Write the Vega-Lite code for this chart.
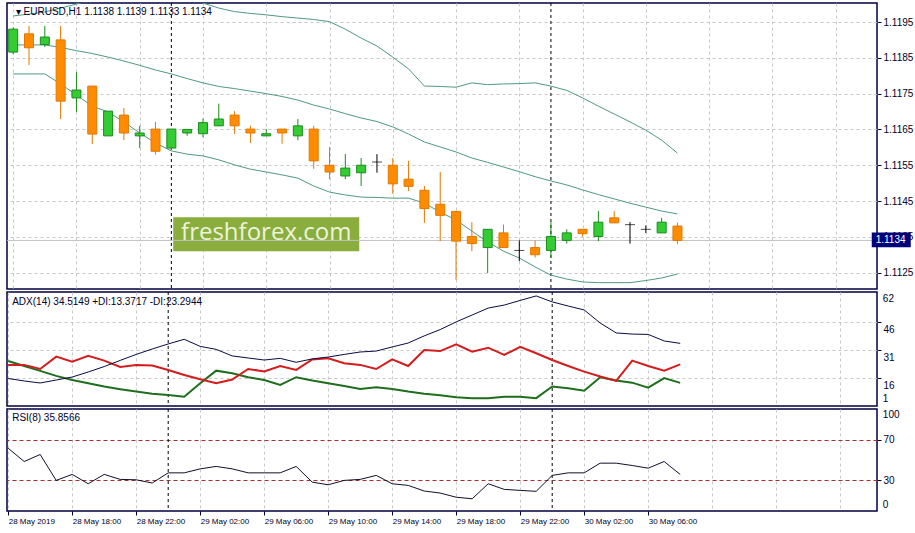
{
"$schema":"https://vega.github.io/schema/vega-lite/v6.json",
"background":"#ffffff",
"padding":{"left":3,"top":1,"right":0,"bottom":0},
"spacing":3,
"bounds":"flush",
"config":{
 "view":{"stroke":"#000040","strokeWidth":1.5},
 "axis":{"labelFont":"Liberation Sans","labelFontSize":10,"labelColor":"#00002a","tickColor":"#000040","tickSize":4,"domain":false,"gridColor":"#c8c8c8","gridDash":[3,3],"gridWidth":1,"labelFlush":false,"labelOverlap":false,"labelPadding":2}
},
"data":{"values":[
{"time":"2019-05-28T14:00:00Z","open":1.11866,"high":1.11935,"low":1.11860,"close":1.11930,"bbUpper":1.11967,"bbMiddle":1.11886,"bbLower":1.11805,"adx":15.7,"plusDI":25.1,"minusDI":23.0,"rsi":61.5},
{"time":"2019-05-28T15:00:00Z","open":1.11917,"high":1.11939,"low":1.11830,"close":1.11878,"bbUpper":1.11972,"bbMiddle":1.11886,"bbLower":1.11805,"adx":14.4,"plusDI":22.4,"minusDI":23.0,"rsi":48.5},
{"time":"2019-05-28T16:00:00Z","open":1.11887,"high":1.11939,"low":1.11880,"close":1.11908,"bbUpper":1.11978,"bbMiddle":1.11886,"bbLower":1.11805,"adx":13.3,"plusDI":19.8,"minusDI":20.8,"rsi":55.4},
{"time":"2019-05-28T17:00:00Z","open":1.11900,"high":1.11939,"low":1.11679,"close":1.11729,"bbUpper":1.11989,"bbMiddle":1.11879,"bbLower":1.11777,"adx":14.9,"plusDI":17.1,"minusDI":27.4,"rsi":30.0},
{"time":"2019-05-28T18:00:00Z","open":1.11738,"high":1.11810,"low":1.11699,"close":1.11760,"bbUpper":1.12000,"bbMiddle":1.11870,"bbLower":1.11746,"adx":16.5,"plusDI":14.9,"minusDI":24.7,"rsi":35.9},
{"time":"2019-05-28T19:00:00Z","open":1.11771,"high":1.11771,"low":1.11609,"close":1.11637,"bbUpper":1.12014,"bbMiddle":1.11862,"bbLower":1.11715,"adx":19.2,"plusDI":13.2,"minusDI":27.8,"rsi":26.7},
{"time":"2019-05-28T20:00:00Z","open":1.11632,"high":1.11701,"low":1.11632,"close":1.11701,"bbUpper":1.12023,"bbMiddle":1.11852,"bbLower":1.11699,"adx":22.1,"plusDI":11.4,"minusDI":25.3,"rsi":35.9},
{"time":"2019-05-28T21:00:00Z","open":1.11690,"high":1.11710,"low":1.11620,"close":1.11640,"bbUpper":1.12028,"bbMiddle":1.11841,"bbLower":1.11671,"adx":25.4,"plusDI":10.0,"minusDI":21.9,"rsi":31.0},
{"time":"2019-05-28T22:00:00Z","open":1.11632,"high":1.11660,"low":1.11598,"close":1.11640,"bbUpper":1.12031,"bbMiddle":1.11829,"bbLower":1.11640,"adx":28.6,"plusDI":8.7,"minusDI":23.0,"rsi":30.6},
{"time":"2019-05-28T23:00:00Z","open":1.11651,"high":1.11671,"low":1.11580,"close":1.11589,"bbUpper":1.12028,"bbMiddle":1.11816,"bbLower":1.11612,"adx":31.5,"plusDI":7.5,"minusDI":22.7,"rsi":27.4},
{"time":"2019-05-29T00:00:00Z","open":1.11598,"high":1.11651,"low":1.11592,"close":1.11651,"bbUpper":1.12023,"bbMiddle":1.11805,"bbLower":1.11590,"adx":34.2,"plusDI":6.9,"minusDI":20.3,"rsi":37.4},
{"time":"2019-05-29T01:00:00Z","open":1.11640,"high":1.11650,"low":1.11632,"close":1.11650,"bbUpper":1.12014,"bbMiddle":1.11792,"bbLower":1.11581,"adx":36.7,"plusDI":6.0,"minusDI":17.6,"rsi":37.4},
{"time":"2019-05-29T02:00:00Z","open":1.11638,"high":1.11680,"low":1.11629,"close":1.11669,"bbUpper":1.12003,"bbMiddle":1.11780,"bbLower":1.11576,"adx":32.9,"plusDI":13.2,"minusDI":15.3,"rsi":41.3},
{"time":"2019-05-29T03:00:00Z","open":1.11660,"high":1.11722,"low":1.11660,"close":1.11679,"bbUpper":1.11989,"bbMiddle":1.11770,"bbLower":1.11565,"adx":31.3,"plusDI":19.9,"minusDI":13.2,"rsi":43.7},
{"time":"2019-05-29T04:00:00Z","open":1.11690,"high":1.11701,"low":1.11637,"close":1.11660,"bbUpper":1.11979,"bbMiddle":1.11764,"bbLower":1.11551,"adx":27.8,"plusDI":18.5,"minusDI":15.2,"rsi":41.3},
{"time":"2019-05-29T05:00:00Z","open":1.11651,"high":1.11660,"low":1.11612,"close":1.11640,"bbUpper":1.11974,"bbMiddle":1.11757,"bbLower":1.11539,"adx":26.7,"plusDI":16.4,"minusDI":20.8,"rsi":37.4},
{"time":"2019-05-29T06:00:00Z","open":1.11632,"high":1.11651,"low":1.11632,"close":1.11638,"bbUpper":1.11970,"bbMiddle":1.11750,"bbLower":1.11531,"adx":25.6,"plusDI":14.9,"minusDI":19.5,"rsi":37.4},
{"time":"2019-05-29T07:00:00Z","open":1.11651,"high":1.11651,"low":1.11610,"close":1.11640,"bbUpper":1.11965,"bbMiddle":1.11742,"bbLower":1.11523,"adx":26.5,"plusDI":12.3,"minusDI":22.4,"rsi":37.4},
{"time":"2019-05-29T08:00:00Z","open":1.11632,"high":1.11679,"low":1.11620,"close":1.11660,"bbUpper":1.11961,"bbMiddle":1.11732,"bbLower":1.11514,"adx":24.4,"plusDI":16.4,"minusDI":20.3,"rsi":43.7},
{"time":"2019-05-29T09:00:00Z","open":1.11651,"high":1.11660,"low":1.11540,"close":1.11562,"bbUpper":1.11957,"bbMiddle":1.11718,"bbLower":1.11492,"adx":26.2,"plusDI":14.6,"minusDI":25.9,"rsi":28.3},
{"time":"2019-05-29T10:00:00Z","open":1.11550,"high":1.11601,"low":1.11511,"close":1.11531,"bbUpper":1.11951,"bbMiddle":1.11707,"bbLower":1.11475,"adx":27.2,"plusDI":13.2,"minusDI":26.5,"rsi":25.7},
{"time":"2019-05-29T11:00:00Z","open":1.11520,"high":1.11581,"low":1.11511,"close":1.11542,"bbUpper":1.11930,"bbMiddle":1.11694,"bbLower":1.11467,"adx":28.6,"plusDI":11.7,"minusDI":23.9,"rsi":30.0},
{"time":"2019-05-29T12:00:00Z","open":1.11529,"high":1.11570,"low":1.11492,"close":1.11550,"bbUpper":1.11905,"bbMiddle":1.11682,"bbLower":1.11461,"adx":29.9,"plusDI":10.1,"minusDI":23.0,"rsi":31.0},
{"time":"2019-05-29T13:00:00Z","open":1.11559,"high":1.11581,"low":1.11529,"close":1.11559,"bbUpper":1.11883,"bbMiddle":1.11672,"bbLower":1.11460,"adx":30.4,"plusDI":11.0,"minusDI":20.8,"rsi":34.9},
{"time":"2019-05-29T14:00:00Z","open":1.11550,"high":1.11570,"low":1.11470,"close":1.11498,"bbUpper":1.11852,"bbMiddle":1.11657,"bbLower":1.11458,"adx":32.6,"plusDI":10.1,"minusDI":26.0,"rsi":26.7},
{"time":"2019-05-29T15:00:00Z","open":1.11511,"high":1.11562,"low":1.11478,"close":1.11491,"bbUpper":1.11819,"bbMiddle":1.11637,"bbLower":1.11458,"adx":34.7,"plusDI":8.7,"minusDI":22.4,"rsi":25.1},
{"time":"2019-05-29T16:00:00Z","open":1.11480,"high":1.11492,"low":1.11389,"close":1.11429,"bbUpper":1.11771,"bbMiddle":1.11615,"bbLower":1.11444,"adx":38.5,"plusDI":7.5,"minusDI":31.0,"rsi":19.6},
{"time":"2019-05-29T17:00:00Z","open":1.11441,"high":1.11531,"low":1.11338,"close":1.11410,"bbUpper":1.11770,"bbMiddle":1.11601,"bbLower":1.11419,"adx":41.9,"plusDI":6.7,"minusDI":30.4,"rsi":17.6},
{"time":"2019-05-29T18:00:00Z","open":1.11421,"high":1.11421,"low":1.11230,"close":1.11338,"bbUpper":1.11768,"bbMiddle":1.11587,"bbLower":1.11397,"adx":46.0,"plusDI":5.7,"minusDI":34.0,"rsi":13.5},
{"time":"2019-05-29T19:00:00Z","open":1.11351,"high":1.11391,"low":1.11310,"close":1.11331,"bbUpper":1.11780,"bbMiddle":1.11570,"bbLower":1.11366,"adx":49.7,"plusDI":5.2,"minusDI":30.1,"rsi":12.0},
{"time":"2019-05-29T20:00:00Z","open":1.11320,"high":1.11371,"low":1.11249,"close":1.11371,"bbUpper":1.11775,"bbMiddle":1.11558,"bbLower":1.11336,"adx":53.4,"plusDI":5.2,"minusDI":32.2,"rsi":26.7},
{"time":"2019-05-29T21:00:00Z","open":1.11361,"high":1.11384,"low":1.11320,"close":1.11320,"bbUpper":1.11777,"bbMiddle":1.11545,"bbLower":1.11310,"adx":55.0,"plusDI":6.0,"minusDI":28.3,"rsi":21.2},
{"time":"2019-05-29T22:00:00Z","open":1.11312,"high":1.11340,"low":1.11282,"close":1.11312,"bbUpper":1.11778,"bbMiddle":1.11532,"bbLower":1.11291,"adx":57.5,"plusDI":6.0,"minusDI":32.7,"rsi":20.2},
{"time":"2019-05-29T23:00:00Z","open":1.11320,"high":1.11340,"low":1.11292,"close":1.11300,"bbUpper":1.11780,"bbMiddle":1.11518,"bbLower":1.11266,"adx":59.9,"plusDI":5.2,"minusDI":29.2,"rsi":19.3},
{"time":"2019-05-30T00:00:00Z","open":1.11312,"high":1.11391,"low":1.11292,"close":1.11351,"bbUpper":1.11771,"bbMiddle":1.11506,"bbLower":1.11243,"adx":56.7,"plusDI":11.4,"minusDI":25.6,"rsi":34.9},
{"time":"2019-05-30T01:00:00Z","open":1.11340,"high":1.11371,"low":1.11331,"close":1.11361,"bbUpper":1.11759,"bbMiddle":1.11495,"bbLower":1.11232,"adx":54.5,"plusDI":10.5,"minusDI":22.4,"rsi":37.4},
{"time":"2019-05-30T02:00:00Z","open":1.11371,"high":1.11371,"low":1.11350,"close":1.11359,"bbUpper":1.11738,"bbMiddle":1.11481,"bbLower":1.11224,"adx":52.4,"plusDI":9.2,"minusDI":19.4,"rsi":37.4},
{"time":"2019-05-30T03:00:00Z","open":1.11351,"high":1.11422,"low":1.11338,"close":1.11391,"bbUpper":1.11715,"bbMiddle":1.11468,"bbLower":1.11222,"adx":45.4,"plusDI":16.4,"minusDI":16.8,"rsi":46.9},
{"time":"2019-05-30T04:00:00Z","open":1.11403,"high":1.11422,"low":1.11389,"close":1.11389,"bbUpper":1.11693,"bbMiddle":1.11456,"bbLower":1.11222,"adx":40.1,"plusDI":14.6,"minusDI":14.4,"rsi":46.9},
{"time":"2019-05-30T05:00:00Z","open":1.11384,"high":1.11391,"low":1.11331,"close":1.11384,"bbUpper":1.11671,"bbMiddle":1.11444,"bbLower":1.11222,"adx":39.5,"plusDI":13.5,"minusDI":25.3,"rsi":44.6},
{"time":"2019-05-30T06:00:00Z","open":1.11371,"high":1.11382,"low":1.11361,"close":1.11371,"bbUpper":1.11648,"bbMiddle":1.11433,"bbLower":1.11228,"adx":39.3,"plusDI":10.8,"minusDI":22.4,"rsi":42.0},
{"time":"2019-05-30T07:00:00Z","open":1.11361,"high":1.11403,"low":1.11361,"close":1.11391,"bbUpper":1.11620,"bbMiddle":1.11422,"bbLower":1.11235,"adx":35.8,"plusDI":15.9,"minusDI":19.9,"rsi":48.5},
{"time":"2019-05-30T08:00:00Z","open":1.1138,"high":1.1139,"low":1.1133,"close":1.1134,"bbUpper":1.11584,"bbMiddle":1.11414,"bbLower":1.11246,"adx":34.5149,"plusDI":13.3717,"minusDI":23.2944,"rsi":35.8566}
]},
"vconcat":[
{
 "width":870,"height":286,
 "layer":[
  {"data":{"values":[{"label":"freshforex.com"}]},"mark":{"type":"bar","width":186,"color":"#8aae3e"},
   "encoding":{
    "x":{"datum":{"year":2019,"month":5,"date":29,"hours":6,"utc":true},"type":"temporal","scale":{"type":"utc","domain":[1559051730000,1559247480000]}},
    "y":{"datum":1.11405,"type":"quantitative","title":null,"scale":{"domain":[1.112043,1.120031],"nice":false,"zero":false}},
    "y2":{"datum":1.11310}}},
  {"data":{"values":[{"label":"freshforex.com"}]},"mark":{"type":"text","font":"Open Sans","fontSize":24,"color":"#eef3dc","align":"center","baseline":"middle"},
   "encoding":{
    "x":{"datum":{"year":2019,"month":5,"date":29,"hours":6,"utc":true},"type":"temporal","scale":{"type":"utc","domain":[1559051730000,1559247480000]}},
    "y":{"datum":1.11361,"type":"quantitative","title":null,"scale":{"domain":[1.112043,1.120031],"nice":false,"zero":false}},
    "text":{"field":"label"}}},
  {"data":{"values":[{"price":1.1134}]},"mark":{"type":"rule","color":"#c0c0c0","strokeWidth":1},
   "encoding":{"y":{"field":"price","type":"quantitative","title":null,"scale":{"domain":[1.112043,1.120031],"nice":false,"zero":false}}}},
  {"data":{"values":[{"day":"29 May"}]},"mark":{"type":"rule","color":"#000000","strokeWidth":1,"strokeDash":[3,3]},
   "encoding":{"x":{"datum":{"year":2019,"month":5,"date":29,"hours":0,"utc":true},"type":"temporal","scale":{"type":"utc","domain":[1559051730000,1559247480000]}}}},
  {"data":{"values":[{"day":"30 May"}]},"mark":{"type":"rule","color":"#000000","strokeWidth":1,"strokeDash":[3,3]},
   "encoding":{"x":{"datum":{"year":2019,"month":5,"date":30,"hours":0,"utc":true},"type":"temporal","scale":{"type":"utc","domain":[1559051730000,1559247480000]}}}},
  {"mark":{"type":"line","color":"#4f9a7c","strokeWidth":1,"clip":true},
   "encoding":{
    "x":{"field":"time","type":"temporal","title":null,"scale":{"type":"utc","domain":[1559051730000,1559247480000]},
     "axis":{"values":[1559052000000,1559059200000,1559066400000,1559073600000,1559080800000,1559088000000,1559095200000,1559102400000,1559109600000,1559116800000,1559124000000,1559131200000,1559138400000,1559145600000,1559152800000,1559160000000,1559167200000,1559174400000,1559181600000,1559188800000,1559196000000,1559203200000,1559210400000,1559217600000,1559224800000,1559232000000,1559239200000,1559246400000],"labels":false,"ticks":false,"domain":false,"grid":true}},
    "y":{"field":"bbUpper","type":"quantitative","title":null,"scale":{"domain":[1.112043,1.120031],"nice":false,"zero":false}}}},
  {"mark":{"type":"line","color":"#4f9a7c","strokeWidth":1,"clip":true},
   "encoding":{
    "x":{"field":"time","type":"temporal","title":null,"scale":{"type":"utc","domain":[1559051730000,1559247480000]}},
    "y":{"field":"bbMiddle","type":"quantitative","title":null,"scale":{"domain":[1.112043,1.120031],"nice":false,"zero":false}}}},
  {"mark":{"type":"line","color":"#4f9a7c","strokeWidth":1,"clip":true},
   "encoding":{
    "x":{"field":"time","type":"temporal","title":null,"scale":{"type":"utc","domain":[1559051730000,1559247480000]}},
    "y":{"field":"bbLower","type":"quantitative","title":null,"scale":{"domain":[1.112043,1.120031],"nice":false,"zero":false}}}},
  {"transform":[{"filter":"datum.close > datum.open"}],"mark":{"type":"rule","color":"#1d8a1d","strokeWidth":1,"clip":true},
   "encoding":{
    "x":{"field":"time","type":"temporal","title":null,"scale":{"type":"utc","domain":[1559051730000,1559247480000]}},
    "y":{"field":"low","type":"quantitative","title":null,"scale":{"domain":[1.112043,1.120031],"nice":false,"zero":false}},"y2":{"field":"high"}}},
  {"transform":[{"filter":"datum.close < datum.open"}],"mark":{"type":"rule","color":"#e07800","strokeWidth":1,"clip":true},
   "encoding":{
    "x":{"field":"time","type":"temporal","title":null,"scale":{"type":"utc","domain":[1559051730000,1559247480000]}},
    "y":{"field":"low","type":"quantitative","title":null,"scale":{"domain":[1.112043,1.120031],"nice":false,"zero":false}},"y2":{"field":"high"}}},
  {"transform":[{"filter":"datum.close == datum.open"}],"mark":{"type":"rule","color":"#000000","strokeWidth":1,"clip":true},
   "encoding":{
    "x":{"field":"time","type":"temporal","title":null,"scale":{"type":"utc","domain":[1559051730000,1559247480000]}},
    "y":{"field":"low","type":"quantitative","title":null,"scale":{"domain":[1.112043,1.120031],"nice":false,"zero":false}},"y2":{"field":"high"}}},
  {"transform":[{"filter":"datum.close > datum.open"}],"mark":{"type":"bar","size":9,"fill":"#33cc33","stroke":"#1d8a1d","strokeWidth":1,"clip":true},
   "encoding":{
    "x":{"field":"time","type":"temporal","title":null,"scale":{"type":"utc","domain":[1559051730000,1559247480000]}},
    "y":{"field":"open","type":"quantitative","title":null,"scale":{"domain":[1.112043,1.120031],"nice":false,"zero":false}},"y2":{"field":"close"}}},
  {"transform":[{"filter":"datum.close < datum.open"}],"mark":{"type":"bar","size":9,"fill":"#ff8c00","stroke":"#e07800","strokeWidth":1,"clip":true},
   "encoding":{
    "x":{"field":"time","type":"temporal","title":null,"scale":{"type":"utc","domain":[1559051730000,1559247480000]}},
    "y":{"field":"open","type":"quantitative","title":null,"scale":{"domain":[1.112043,1.120031],"nice":false,"zero":false}},"y2":{"field":"close"}}},
  {"transform":[{"filter":"datum.close == datum.open"}],"mark":{"type":"tick","orient":"horizontal","size":10,"thickness":1,"color":"#000000","clip":true},
   "encoding":{
    "x":{"field":"time","type":"temporal","title":null,"scale":{"type":"utc","domain":[1559051730000,1559247480000]}},
    "y":{"field":"open","type":"quantitative","title":null,"scale":{"domain":[1.112043,1.120031],"nice":false,"zero":false},
     "axis":{"orient":"right","values":[1.1125,1.1135,1.1145,1.1155,1.1165,1.1175,1.1185,1.1195],"format":".4f","grid":true,"labelBaseline":"middle","labelOverlap":false}}}},
  {"data":{"values":[{"label":"▾ EURUSD,H1  1.1138 1.1139 1.1133 1.1134"}]},"mark":{"type":"text","font":"Liberation Sans","fontSize":10,"color":"#00002a","align":"left","baseline":"middle"},
   "encoding":{
    "x":{"datum":{"year":2019,"month":5,"date":28,"hours":14,"minutes":10,"utc":true},"type":"temporal","scale":{"type":"utc","domain":[1559051730000,1559247480000]}},
    "y":{"datum":1.11978,"type":"quantitative","title":null,"scale":{"domain":[1.112043,1.120031],"nice":false,"zero":false}},
    "text":{"field":"label"}}},
  {"data":{"values":[{"label":"1.1134"}]},"mark":{"type":"bar","width":39,"color":"#00007a","clip":false},
   "encoding":{
    "x":{"datum":{"year":2019,"month":5,"date":30,"hours":21,"minutes":31,"utc":true},"type":"temporal","scale":{"type":"utc","domain":[1559051730000,1559247480000]}},
    "y":{"datum":1.11362,"type":"quantitative","title":null,"scale":{"domain":[1.112043,1.120031],"nice":false,"zero":false}},
    "y2":{"datum":1.11321}}},
  {"data":{"values":[{"label":"1.1134"}]},"mark":{"type":"text","font":"Liberation Sans","fontSize":10,"color":"#ffffff","align":"left","baseline":"middle","clip":false},
   "encoding":{
    "x":{"datum":{"year":2019,"month":5,"date":30,"hours":20,"minutes":32,"utc":true},"type":"temporal","scale":{"type":"utc","domain":[1559051730000,1559247480000]}},
    "y":{"datum":1.113415,"type":"quantitative","title":null,"scale":{"domain":[1.112043,1.120031],"nice":false,"zero":false}},
    "text":{"field":"label"}}}
 ]
},
{
 "width":870,"height":114,
 "layer":[
  {"data":{"values":[{"day":"29 May"}]},"mark":{"type":"rule","color":"#000000","strokeWidth":1,"strokeDash":[3,3]},
   "encoding":{"x":{"datum":{"year":2019,"month":5,"date":29,"hours":0,"utc":true},"type":"temporal","scale":{"type":"utc","domain":[1559051730000,1559247480000]}}}},
  {"data":{"values":[{"day":"30 May"}]},"mark":{"type":"rule","color":"#000000","strokeWidth":1,"strokeDash":[3,3]},
   "encoding":{"x":{"datum":{"year":2019,"month":5,"date":30,"hours":0,"utc":true},"type":"temporal","scale":{"type":"utc","domain":[1559051730000,1559247480000]}}}},
  {"mark":{"type":"line","color":"#1e6e1e","strokeWidth":2},
   "encoding":{
    "x":{"field":"time","type":"temporal","title":null,"scale":{"type":"utc","domain":[1559051730000,1559247480000]},
     "axis":{"values":[1559052000000,1559059200000,1559066400000,1559073600000,1559080800000,1559088000000,1559095200000,1559102400000,1559109600000,1559116800000,1559124000000,1559131200000,1559138400000,1559145600000,1559152800000,1559160000000,1559167200000,1559174400000,1559181600000,1559188800000,1559196000000,1559203200000,1559210400000,1559217600000,1559224800000,1559232000000,1559239200000,1559246400000],"labels":false,"ticks":false,"domain":false,"grid":true}},
    "y":{"field":"plusDI","type":"quantitative","title":null,"scale":{"domain":[1,62],"nice":false,"zero":false},
     "axis":{"orient":"right","values":[16,31,46],"labelOverlap":false,"grid":true,"labelBaseline":"top","labelOffset":3}}}},
  {"mark":{"type":"line","color":"#d41c1c","strokeWidth":2},
   "encoding":{
    "x":{"field":"time","type":"temporal","title":null,"scale":{"type":"utc","domain":[1559051730000,1559247480000]}},
    "y":{"field":"minusDI","type":"quantitative","title":null,"scale":{"domain":[1,62],"nice":false,"zero":false}}}},
  {"mark":{"type":"line","color":"#0a0a46","strokeWidth":1},
   "encoding":{
    "x":{"field":"time","type":"temporal","title":null,"scale":{"type":"utc","domain":[1559051730000,1559247480000]}},
    "y":{"field":"adx","type":"quantitative","title":null,"scale":{"domain":[1,62],"nice":false,"zero":false}}}},
  {"data":{"values":[{"label":"ADX(14) 34.5149 +DI:13.3717 -DI:23.2944"}]},"mark":{"type":"text","font":"Liberation Sans","fontSize":10,"color":"#00002a","align":"left","baseline":"middle"},
   "encoding":{
    "x":{"datum":{"year":2019,"month":5,"date":28,"hours":14,"minutes":15,"utc":true},"type":"temporal","scale":{"type":"utc","domain":[1559051730000,1559247480000]}},
    "y":{"datum":56.5,"type":"quantitative","title":null,"scale":{"domain":[1,62],"nice":false,"zero":false}},
    "text":{"field":"label"}}},
  {"data":{"values":[{"label":"62"}]},"mark":{"type":"text","font":"Liberation Sans","fontSize":10,"color":"#00002a","align":"left","baseline":"top","dy":1.5,"clip":false},
   "encoding":{
    "x":{"datum":{"year":2019,"month":5,"date":30,"hours":20,"minutes":40,"utc":true},"type":"temporal","scale":{"type":"utc","domain":[1559051730000,1559247480000]}},
    "y":{"datum":62,"type":"quantitative","title":null,"scale":{"domain":[1,62],"nice":false,"zero":false}},
    "text":{"field":"label"}}},
  {"data":{"values":[{"label":"1"}]},"mark":{"type":"text","font":"Liberation Sans","fontSize":10,"color":"#00002a","align":"left","baseline":"bottom","dy":-2,"clip":false},
   "encoding":{
    "x":{"datum":{"year":2019,"month":5,"date":30,"hours":20,"minutes":40,"utc":true},"type":"temporal","scale":{"type":"utc","domain":[1559051730000,1559247480000]}},
    "y":{"datum":1,"type":"quantitative","title":null,"scale":{"domain":[1,62],"nice":false,"zero":false}},
    "text":{"field":"label"}}}
 ]
},
{
 "width":870,"height":102,
 "layer":[
  {"data":{"values":[{"day":"29 May"}]},"mark":{"type":"rule","color":"#000000","strokeWidth":1,"strokeDash":[3,3]},
   "encoding":{"x":{"datum":{"year":2019,"month":5,"date":29,"hours":0,"utc":true},"type":"temporal","scale":{"type":"utc","domain":[1559051730000,1559247480000]}}}},
  {"data":{"values":[{"day":"30 May"}]},"mark":{"type":"rule","color":"#000000","strokeWidth":1,"strokeDash":[3,3]},
   "encoding":{"x":{"datum":{"year":2019,"month":5,"date":30,"hours":0,"utc":true},"type":"temporal","scale":{"type":"utc","domain":[1559051730000,1559247480000]}}}},
  {"mark":{"type":"line","color":"#10102a","strokeWidth":1},
   "encoding":{
    "x":{"field":"time","type":"temporal","title":null,"scale":{"type":"utc","domain":[1559051730000,1559247480000]},
     "axis":{"values":[1559052000000,1559059200000,1559066400000,1559073600000,1559080800000,1559088000000,1559095200000,1559102400000,1559109600000,1559116800000,1559124000000,1559131200000,1559138400000,1559145600000,1559152800000,1559160000000,1559167200000,1559174400000,1559181600000,1559188800000,1559196000000,1559203200000,1559210400000,1559217600000,1559224800000,1559232000000,1559239200000,1559246400000],"grid":true,
      "labelExpr":"(utchours(datum.value) % 4 != 2 || (utcdate(datum.value) == 30 && utchours(datum.value) > 6)) ? '' : ((utcdate(datum.value) == 28 && utchours(datum.value) == 14) ? '28 May 2019' : utcFormat(datum.value, '%d %b %H:%M'))",
      "tickOpacity":{"condition":{"test":"utchours(datum.value) % 4 != 2 || (utcdate(datum.value) == 30 && utchours(datum.value) > 6)","value":0},"value":1},
      "labelAlign":"left","labelBaseline":"top","labelPadding":2,"labelFont":"Liberation Sans","labelFontSize":8,"labelOverlap":false,"domain":false}},
    "y":{"field":"rsi","type":"quantitative","title":null,"scale":{"domain":[0,100],"nice":false,"zero":false},
     "axis":{"orient":"right","values":[30,70],"labelOverlap":false,"grid":true,"gridDash":[4,3],"gridColor":"#a83030","labelBaseline":"middle"}}}},
  {"data":{"values":[{"label":"RSI(8) 35.8566"}]},"mark":{"type":"text","font":"Liberation Sans","fontSize":10,"color":"#00002a","align":"left","baseline":"middle"},
   "encoding":{
    "x":{"datum":{"year":2019,"month":5,"date":28,"hours":14,"minutes":15,"utc":true},"type":"temporal","scale":{"type":"utc","domain":[1559051730000,1559247480000]}},
    "y":{"datum":91.3,"type":"quantitative","title":null,"scale":{"domain":[0,100],"nice":false,"zero":false}},
    "text":{"field":"label"}}},
  {"data":{"values":[{"label":"100"}]},"mark":{"type":"text","font":"Liberation Sans","fontSize":10,"color":"#00002a","align":"left","baseline":"top","dy":1,"clip":false},
   "encoding":{
    "x":{"datum":{"year":2019,"month":5,"date":30,"hours":20,"minutes":40,"utc":true},"type":"temporal","scale":{"type":"utc","domain":[1559051730000,1559247480000]}},
    "y":{"datum":100,"type":"quantitative","title":null,"scale":{"domain":[0,100],"nice":false,"zero":false}},
    "text":{"field":"label"}}},
  {"data":{"values":[{"label":"0"}]},"mark":{"type":"text","font":"Liberation Sans","fontSize":10,"color":"#00002a","align":"left","baseline":"bottom","dy":-1,"clip":false},
   "encoding":{
    "x":{"datum":{"year":2019,"month":5,"date":30,"hours":20,"minutes":40,"utc":true},"type":"temporal","scale":{"type":"utc","domain":[1559051730000,1559247480000]}},
    "y":{"datum":0,"type":"quantitative","title":null,"scale":{"domain":[0,100],"nice":false,"zero":false}},
    "text":{"field":"label"}}}
 ]
}
]
}
